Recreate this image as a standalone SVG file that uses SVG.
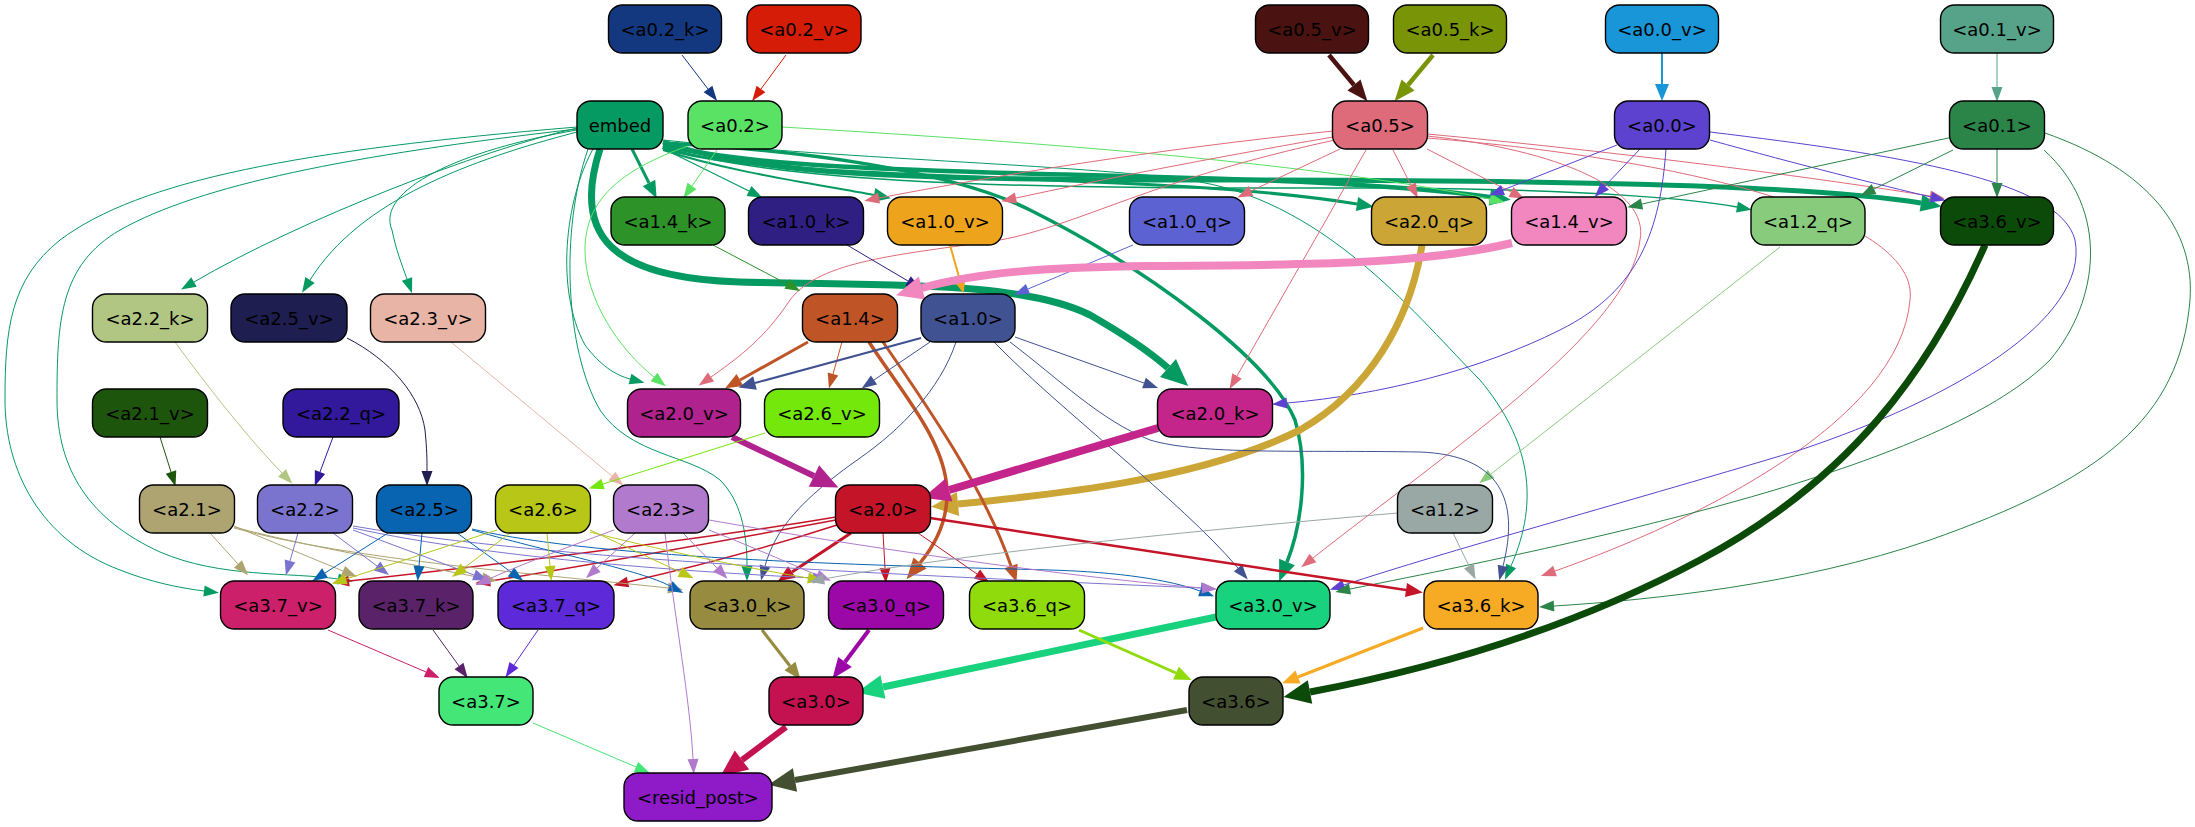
<svg xmlns="http://www.w3.org/2000/svg" width="2195" height="827" viewBox="0 0 2195 827">
<style>
.n rect{stroke:#000;stroke-width:1.4}
.n text{font-family:"DejaVu Sans","Liberation Sans",sans-serif;font-size:18px;text-anchor:middle;fill:#000}
#edges path{fill:none}
</style>
<defs>
<marker id="as" viewBox="0 -7 16 14" refX="0" refY="0" markerWidth="16" markerHeight="14" markerUnits="userSpaceOnUse" orient="auto" overflow="visible"><path d="M0,-5.5 L15,0 L0,5.5 z" fill="context-stroke"/></marker>
<marker id="am" viewBox="0 -8 18 16" refX="0" refY="0" markerWidth="18" markerHeight="16" markerUnits="userSpaceOnUse" orient="auto" overflow="visible"><path d="M0,-7 L17,0 L0,7 z" fill="context-stroke"/></marker>
<marker id="al" viewBox="0 -10 22 20" refX="0" refY="0" markerWidth="22" markerHeight="20" markerUnits="userSpaceOnUse" orient="auto" overflow="visible"><path d="M0,-8.5 L21,0 L0,8.5 z" fill="context-stroke"/></marker>
<marker id="ax" viewBox="0 -13 28 26" refX="0" refY="0" markerWidth="28" markerHeight="26" markerUnits="userSpaceOnUse" orient="auto" overflow="visible"><path d="M0,-12 L27,0 L0,12 z" fill="context-stroke"/></marker>
</defs>
<g id="edges">
<path d="M682,55 L708,89" stroke="#13387f" stroke-width="1" marker-end="url(#as)"/>
<path d="M786,55 L761,89" stroke="#d41c06" stroke-width="1" marker-end="url(#as)"/>
<path d="M1329,55 L1354,85" stroke="#4a1210" stroke-width="4.5" marker-end="url(#al)"/>
<path d="M1433,55 L1408,85" stroke="#7a9408" stroke-width="4.5" marker-end="url(#al)"/>
<path d="M1662,53 L1662,84" stroke="#1996d8" stroke-width="2" marker-end="url(#am)"/>
<path d="M1997,53 L1997,87" stroke="#56a38a" stroke-width="1" marker-end="url(#as)"/>
<path d="M632,149 L649,183" stroke="#069a63" stroke-width="3" marker-end="url(#am)"/>
<path d="M662,148 L749,191" stroke="#069a63" stroke-width="1.2" marker-end="url(#as)"/>
<path d="M663,150 C730,172 810,183 874,195" stroke="#069a63" stroke-width="2" marker-end="url(#am)"/>
<path d="M663,148 C780,185 1150,170 1357,204" stroke="#069a63" stroke-width="3" marker-end="url(#am)"/>
<path d="M663,145 C820,185 1250,165 1490,197" stroke="#069a63" stroke-width="4.5" marker-end="url(#al)"/>
<path d="M663,142 C760,175 900,180 1200,180 C1500,180 1800,183 1921,203" stroke="#069a63" stroke-width="5" marker-end="url(#al)"/>
<path d="M663,147 C800,190 1100,188 1400,188 C1600,190 1700,200 1737,207" stroke="#069a63" stroke-width="1.5" marker-end="url(#as)"/>
<path d="M600,149 C572,235 610,278 740,282 C880,286 1020,280 1090,315 C1125,335 1150,352 1168,368" stroke="#069a63" stroke-width="7" marker-end="url(#ax)"/>
<path d="M663,143 C800,150 950,170 1030,210 C1150,270 1270,360 1295,420 C1310,470 1300,530 1287,562" stroke="#069a63" stroke-width="3.5" marker-end="url(#al)"/>
<path d="M663,140 C850,160 1100,165 1200,182 C1330,205 1420,320 1480,380 C1530,440 1540,500 1511,566" stroke="#069a63" stroke-width="1" marker-end="url(#as)"/>
<path d="M577,128 C480,150 300,220 194,282" stroke="#069a63" stroke-width="1" marker-end="url(#as)"/>
<path d="M577,132 C470,160 360,200 310,280" stroke="#069a63" stroke-width="1" marker-end="url(#as)"/>
<path d="M577,130 C460,150 375,190 392,230 C396,250 402,265 407,279" stroke="#069a63" stroke-width="1" marker-end="url(#as)"/>
<path d="M577,127 C300,150 140,180 60,240 C10,280 5,330 5,400 C5,470 40,540 120,570 C150,582 180,588 204,591" stroke="#069a63" stroke-width="1" marker-end="url(#as)"/>
<path d="M577,129 C350,155 200,185 120,230 C60,265 57,320 57,400 C57,470 90,520 160,552 C220,578 290,572 338,579" stroke="#069a63" stroke-width="1" marker-end="url(#as)"/>
<path d="M593,149 C565,200 555,290 585,345 C600,365 615,375 630,379" stroke="#069a63" stroke-width="1" marker-end="url(#as)"/>
<path d="M588,149 C560,230 565,350 600,410 C630,455 690,455 720,480 C740,500 747,530 747,566" stroke="#069a63" stroke-width="1" marker-end="url(#as)"/>
<path d="M717,150 L692,186" stroke="#5ae264" stroke-width="1" marker-end="url(#as)"/>
<path d="M688,146 C620,170 585,200 585,250 C585,300 620,350 654,377" stroke="#5ae264" stroke-width="1" marker-end="url(#as)"/>
<path d="M782,127 C1000,140 1300,160 1490,199" stroke="#5ae264" stroke-width="1" marker-end="url(#as)"/>
<path d="M1333,131 C1150,150 1000,175 879,198" stroke="#de6b7a" stroke-width="1" marker-end="url(#as)"/>
<path d="M1333,137 C1200,160 1100,180 1016,198" stroke="#de6b7a" stroke-width="1" marker-end="url(#as)"/>
<path d="M1340,149 L1251,191" stroke="#de6b7a" stroke-width="1" marker-end="url(#as)"/>
<path d="M1393,150 L1411,185" stroke="#de6b7a" stroke-width="1" marker-end="url(#as)"/>
<path d="M1427,149 L1511,192" stroke="#de6b7a" stroke-width="1" marker-end="url(#as)"/>
<path d="M1335,140 C1150,180 1080,225 1000,240 C900,255 820,260 790,300 C770,330 750,350 711,377" stroke="#de6b7a" stroke-width="1" marker-end="url(#as)"/>
<path d="M1366,150 L1237,376" stroke="#de6b7a" stroke-width="1" marker-end="url(#as)"/>
<path d="M1427,136 C1560,150 1650,190 1640,240 C1630,330 1450,450 1313,558" stroke="#de6b7a" stroke-width="1" marker-end="url(#as)"/>
<path d="M1427,138 C1700,160 1920,220 1910,300 C1900,420 1700,520 1555,571" stroke="#de6b7a" stroke-width="1" marker-end="url(#as)"/>
<path d="M1427,134 C1600,150 1800,175 1930,196" stroke="#de6b7a" stroke-width="1" marker-end="url(#as)"/>
<path d="M1617,145 L1503,190" stroke="#5c42cf" stroke-width="1" marker-end="url(#as)"/>
<path d="M1640,149 L1605,186" stroke="#5c42cf" stroke-width="1" marker-end="url(#as)"/>
<path d="M1666,149 C1660,230 1640,290 1560,330 C1480,370 1380,395 1287,403" stroke="#5c42cf" stroke-width="1" marker-end="url(#as)"/>
<path d="M1710,140 C1800,165 1880,185 1931,197" stroke="#5c42cf" stroke-width="1" marker-end="url(#as)"/>
<path d="M1710,132 C1900,155 2060,180 2075,240 C2090,320 1950,400 1800,450 C1600,510 1450,550 1344,585" stroke="#5c42cf" stroke-width="1" marker-end="url(#as)"/>
<path d="M1953,137 L1642,204" stroke="#2b8448" stroke-width="1" marker-end="url(#as)"/>
<path d="M1953,150 L1874,189" stroke="#2b8448" stroke-width="1" marker-end="url(#as)"/>
<path d="M1997,149 L1997,183" stroke="#2b8448" stroke-width="1" marker-end="url(#as)"/>
<path d="M2044,150 C2110,210 2100,300 2050,360 C1950,460 1650,530 1350,589" stroke="#2b8448" stroke-width="1" marker-end="url(#as)"/>
<path d="M2045,133 C2150,170 2195,230 2190,300 C2180,420 2100,480 1930,540 C1800,585 1650,600 1554,606" stroke="#2b8448" stroke-width="1" marker-end="url(#as)"/>
<path d="M713,245 L787,284" stroke="#2d9228" stroke-width="1" marker-end="url(#as)"/>
<path d="M847,245 L908,281" stroke="#301f82" stroke-width="1" marker-end="url(#as)"/>
<path d="M950,245 L959,277" stroke="#eda41c" stroke-width="2" marker-end="url(#am)"/>
<path d="M1133,245 L1028,289" stroke="#5d62d2" stroke-width="1" marker-end="url(#as)"/>
<path d="M1422,245 C1410,320 1370,390 1300,430 C1200,480 1050,495 958,504" stroke="#cba636" stroke-width="7" marker-end="url(#ax)"/>
<path d="M1512,243 C1420,265 1300,265 1150,266 C1050,267 980,272 922,288" stroke="#f287c0" stroke-width="8" marker-end="url(#ax)"/>
<path d="M1780,247 L1491,474" stroke="#88cb7c" stroke-width="1" marker-end="url(#as)"/>
<path d="M1985,245 C1930,370 1850,480 1700,560 C1550,640 1400,675 1310,692" stroke="#0b4a08" stroke-width="7" marker-end="url(#ax)"/>
<path d="M808,342 L740,380" stroke="#bf5427" stroke-width="3" marker-end="url(#am)"/>
<path d="M842,342 L833,374" stroke="#bf5427" stroke-width="1" marker-end="url(#as)"/>
<path d="M869,342 C900,390 945,440 947,490 C948,520 935,545 920,563" stroke="#bf5427" stroke-width="3.5" marker-end="url(#al)"/>
<path d="M883,342 C930,410 985,490 1011,566" stroke="#bf5427" stroke-width="3" marker-end="url(#am)"/>
<path d="M921,338 L755,383" stroke="#405291" stroke-width="2" marker-end="url(#am)"/>
<path d="M930,342 L874,380" stroke="#405291" stroke-width="1" marker-end="url(#as)"/>
<path d="M1015,337 L1144,383" stroke="#405291" stroke-width="1" marker-end="url(#as)"/>
<path d="M956,342 C940,390 900,430 860,458 C800,500 775,530 765,566" stroke="#405291" stroke-width="1" marker-end="url(#as)"/>
<path d="M994,342 C1060,410 1180,500 1238,568" stroke="#405291" stroke-width="1" marker-end="url(#as)"/>
<path d="M1010,342 C1060,380 1100,420 1150,440 C1200,455 1300,450 1420,452 C1500,455 1520,500 1503,566" stroke="#405291" stroke-width="1" marker-end="url(#as)"/>
<path d="M175,342 C210,390 250,440 282,473" stroke="#b1c683" stroke-width="1" marker-end="url(#as)"/>
<path d="M347,338 C390,360 420,395 425,430 C427,450 427,460 427,471" stroke="#1e1e50" stroke-width="1" marker-end="url(#as)"/>
<path d="M451,342 L612,476" stroke="#e8b4a5" stroke-width="1" marker-end="url(#as)"/>
<path d="M160,437 L171,472" stroke="#1e550d" stroke-width="1" marker-end="url(#as)"/>
<path d="M333,437 L320,472" stroke="#32189a" stroke-width="1" marker-end="url(#as)"/>
<path d="M732,437 L814,476" stroke="#b0228d" stroke-width="6" marker-end="url(#ax)"/>
<path d="M765,433 L603,484" stroke="#74e80b" stroke-width="1" marker-end="url(#as)"/>
<path d="M1158,428 L949,490" stroke="#c3258a" stroke-width="8" marker-end="url(#ax)"/>
<path d="M836,517 C700,540 450,570 349,581" stroke="#c41428" stroke-width="1.5" marker-end="url(#as)"/>
<path d="M836,520 C700,545 560,570 490,581" stroke="#c41428" stroke-width="1.5" marker-end="url(#as)"/>
<path d="M837,525 C760,550 680,570 628,582" stroke="#c41428" stroke-width="1.5" marker-end="url(#as)"/>
<path d="M851,533 L792,572" stroke="#c41428" stroke-width="3" marker-end="url(#am)"/>
<path d="M883,533 L885,568" stroke="#c41428" stroke-width="1" marker-end="url(#as)"/>
<path d="M918,533 L977,574" stroke="#c41428" stroke-width="1" marker-end="url(#as)"/>
<path d="M930,518 L1406,590" stroke="#c41428" stroke-width="2.5" marker-end="url(#am)"/>
<path d="M210,533 L238,564" stroke="#aea472" stroke-width="1" marker-end="url(#as)"/>
<path d="M234,526 L343,571" stroke="#aea472" stroke-width="1" marker-end="url(#as)"/>
<path d="M234,527 C320,550 420,565 482,578" stroke="#aea472" stroke-width="1" marker-end="url(#as)"/>
<path d="M234,528 C350,560 550,575 668,588" stroke="#aea472" stroke-width="1" marker-end="url(#as)"/>
<path d="M298,533 L290,561" stroke="#7b74cf" stroke-width="1" marker-end="url(#as)"/>
<path d="M333,533 L377,566" stroke="#7b74cf" stroke-width="1" marker-end="url(#as)"/>
<path d="M353,530 L474,575" stroke="#7b74cf" stroke-width="1" marker-end="url(#as)"/>
<path d="M353,528 C500,560 700,572 813,578" stroke="#7b74cf" stroke-width="1" marker-end="url(#as)"/>
<path d="M353,526 C550,560 900,575 1201,588" stroke="#7b74cf" stroke-width="1" marker-end="url(#as)"/>
<path d="M388,533 L325,573" stroke="#0864b1" stroke-width="1" marker-end="url(#as)"/>
<path d="M422,533 L419,566" stroke="#0864b1" stroke-width="1" marker-end="url(#as)"/>
<path d="M457,533 L511,572" stroke="#0864b1" stroke-width="1" marker-end="url(#as)"/>
<path d="M472,530 C560,555 640,570 670,586" stroke="#0864b1" stroke-width="1" marker-end="url(#as)"/>
<path d="M472,529 C600,560 900,566 1050,570 C1120,572 1170,580 1200,591" stroke="#0864b1" stroke-width="1" marker-end="url(#as)"/>
<path d="M497,530 L346,579" stroke="#b8c618" stroke-width="1" marker-end="url(#as)"/>
<path d="M510,533 L464,568" stroke="#b8c618" stroke-width="1" marker-end="url(#as)"/>
<path d="M547,533 L550,566" stroke="#b8c618" stroke-width="1" marker-end="url(#as)"/>
<path d="M590,530 L680,572" stroke="#b8c618" stroke-width="1" marker-end="url(#as)"/>
<path d="M590,532 C680,555 760,570 808,578" stroke="#b8c618" stroke-width="1" marker-end="url(#as)"/>
<path d="M614,530 C560,550 520,565 489,579" stroke="#b17acc" stroke-width="1" marker-end="url(#as)"/>
<path d="M635,533 L597,568" stroke="#b17acc" stroke-width="1" marker-end="url(#as)"/>
<path d="M683,533 L717,568" stroke="#b17acc" stroke-width="1" marker-end="url(#as)"/>
<path d="M709,530 C760,550 800,568 817,575" stroke="#b17acc" stroke-width="1" marker-end="url(#as)"/>
<path d="M709,520 C850,545 1050,575 1202,588" stroke="#b17acc" stroke-width="1" marker-end="url(#as)"/>
<path d="M665,533 C675,620 690,700 693,759" stroke="#b17acc" stroke-width="1" marker-end="url(#as)"/>
<path d="M1398,513 C1200,530 950,555 824,579" stroke="#99a8a4" stroke-width="1" marker-end="url(#as)"/>
<path d="M1453,533 L1469,566" stroke="#99a8a4" stroke-width="1" marker-end="url(#as)"/>
<path d="M328,630 L426,672" stroke="#cc206b" stroke-width="1" marker-end="url(#as)"/>
<path d="M433,630 L459,666" stroke="#5a2369" stroke-width="1" marker-end="url(#as)"/>
<path d="M538,630 L514,665" stroke="#5e2ad9" stroke-width="1" marker-end="url(#as)"/>
<path d="M762,630 L790,666" stroke="#968b3e" stroke-width="3" marker-end="url(#am)"/>
<path d="M869,630 L845,662" stroke="#9c08a8" stroke-width="4" marker-end="url(#al)"/>
<path d="M1216,617 L883,687" stroke="#19d27e" stroke-width="7" marker-end="url(#ax)"/>
<path d="M1079,630 L1176,673" stroke="#8fdb0c" stroke-width="3" marker-end="url(#am)"/>
<path d="M1423,628 L1298,677" stroke="#f7aa24" stroke-width="3" marker-end="url(#am)"/>
<path d="M533,723 L636,767" stroke="#44e677" stroke-width="1" marker-end="url(#as)"/>
<path d="M786,727 L742,760" stroke="#c41150" stroke-width="6" marker-end="url(#ax)"/>
<path d="M1187,710 L795,780" stroke="#434f31" stroke-width="6" marker-end="url(#ax)"/>
</g>
<g id="n-a0_2_k" class="n"><rect x="608.5" y="5" width="113" height="48" rx="14" fill="#13387f"/><text x="665" y="35.5">&lt;a0.2_k&gt;</text></g>
<g id="n-a0_2_v" class="n"><rect x="747" y="5" width="114" height="48" rx="14" fill="#d41c06"/><text x="804" y="35.5">&lt;a0.2_v&gt;</text></g>
<g id="n-a0_5_v" class="n"><rect x="1255.5" y="5" width="113" height="48" rx="14" fill="#4a1210"/><text x="1312" y="35.5">&lt;a0.5_v&gt;</text></g>
<g id="n-a0_5_k" class="n"><rect x="1393.5" y="5" width="113" height="48" rx="14" fill="#7a9408"/><text x="1450" y="35.5">&lt;a0.5_k&gt;</text></g>
<g id="n-a0_0_v" class="n"><rect x="1605.5" y="5" width="113" height="48" rx="14" fill="#1996d8"/><text x="1662" y="35.5">&lt;a0.0_v&gt;</text></g>
<g id="n-a0_1_v" class="n"><rect x="1940.5" y="5" width="113" height="48" rx="14" fill="#56a38a"/><text x="1997" y="35.5">&lt;a0.1_v&gt;</text></g>
<g id="n-embed" class="n"><rect x="577" y="101" width="86" height="48" rx="14" fill="#069a63"/><text x="620" y="131.5">embed</text></g>
<g id="n-a0_2" class="n"><rect x="688" y="101" width="94" height="48" rx="14" fill="#5ae264"/><text x="735" y="131.5">&lt;a0.2&gt;</text></g>
<g id="n-a0_5" class="n"><rect x="1332.5" y="101" width="95" height="48" rx="14" fill="#de6b7a"/><text x="1380" y="131.5">&lt;a0.5&gt;</text></g>
<g id="n-a0_0" class="n"><rect x="1614.5" y="101" width="95" height="48" rx="14" fill="#5c42cf"/><text x="1662" y="131.5">&lt;a0.0&gt;</text></g>
<g id="n-a0_1" class="n"><rect x="1949.5" y="101" width="95" height="48" rx="14" fill="#2b8448"/><text x="1997" y="131.5">&lt;a0.1&gt;</text></g>
<g id="n-a1_4_k" class="n"><rect x="611" y="197" width="114" height="48" rx="14" fill="#2d9228"/><text x="668" y="227.5">&lt;a1.4_k&gt;</text></g>
<g id="n-a1_0_k" class="n"><rect x="748.5" y="197" width="115" height="48" rx="14" fill="#301f82"/><text x="806" y="227.5">&lt;a1.0_k&gt;</text></g>
<g id="n-a1_0_v" class="n"><rect x="887.5" y="197" width="115" height="48" rx="14" fill="#eda41c"/><text x="945" y="227.5">&lt;a1.0_v&gt;</text></g>
<g id="n-a1_0_q" class="n"><rect x="1129.5" y="197" width="115" height="48" rx="14" fill="#5d62d2"/><text x="1187" y="227.5">&lt;a1.0_q&gt;</text></g>
<g id="n-a2_0_q" class="n"><rect x="1371.5" y="197" width="115" height="48" rx="14" fill="#cba636"/><text x="1429" y="227.5">&lt;a2.0_q&gt;</text></g>
<g id="n-a1_4_v" class="n"><rect x="1511.5" y="197" width="115" height="48" rx="14" fill="#f287c0"/><text x="1569" y="227.5">&lt;a1.4_v&gt;</text></g>
<g id="n-a1_2_q" class="n"><rect x="1751" y="197" width="114" height="48" rx="14" fill="#88cb7c"/><text x="1808" y="227.5">&lt;a1.2_q&gt;</text></g>
<g id="n-a3_6_v" class="n"><rect x="1940.5" y="197" width="113" height="48" rx="14" fill="#0b4a08"/><text x="1997" y="227.5">&lt;a3.6_v&gt;</text></g>
<g id="n-a2_2_k" class="n"><rect x="92.5" y="294" width="115" height="48" rx="14" fill="#b1c683"/><text x="150" y="324.5">&lt;a2.2_k&gt;</text></g>
<g id="n-a2_5_v" class="n"><rect x="231" y="294" width="116" height="48" rx="14" fill="#1e1e50"/><text x="289" y="324.5">&lt;a2.5_v&gt;</text></g>
<g id="n-a2_3_v" class="n"><rect x="370.5" y="294" width="115" height="48" rx="14" fill="#e8b4a5"/><text x="428" y="324.5">&lt;a2.3_v&gt;</text></g>
<g id="n-a1_4" class="n"><rect x="802.5" y="294" width="95" height="48" rx="14" fill="#bf5427"/><text x="850" y="324.5">&lt;a1.4&gt;</text></g>
<g id="n-a1_0" class="n"><rect x="921" y="294" width="94" height="48" rx="14" fill="#405291"/><text x="968" y="324.5">&lt;a1.0&gt;</text></g>
<g id="n-a2_1_v" class="n"><rect x="92.5" y="389" width="115" height="48" rx="14" fill="#1e550d"/><text x="150" y="419.5">&lt;a2.1_v&gt;</text></g>
<g id="n-a2_2_q" class="n"><rect x="283" y="389" width="116" height="48" rx="14" fill="#32189a"/><text x="341" y="419.5">&lt;a2.2_q&gt;</text></g>
<g id="n-a2_0_v" class="n"><rect x="627.5" y="389" width="113" height="48" rx="14" fill="#b0228d"/><text x="684" y="419.5">&lt;a2.0_v&gt;</text></g>
<g id="n-a2_6_v" class="n"><rect x="764.5" y="389" width="115" height="48" rx="14" fill="#74e80b"/><text x="822" y="419.5">&lt;a2.6_v&gt;</text></g>
<g id="n-a2_0_k" class="n"><rect x="1157.5" y="389" width="115" height="48" rx="14" fill="#c3258a"/><text x="1215" y="419.5">&lt;a2.0_k&gt;</text></g>
<g id="n-a2_1" class="n"><rect x="139.5" y="485" width="95" height="48" rx="14" fill="#aea472"/><text x="187" y="515.5">&lt;a2.1&gt;</text></g>
<g id="n-a2_2" class="n"><rect x="257.5" y="485" width="95" height="48" rx="14" fill="#7b74cf"/><text x="305" y="515.5">&lt;a2.2&gt;</text></g>
<g id="n-a2_5" class="n"><rect x="376.5" y="485" width="95" height="48" rx="14" fill="#0864b1"/><text x="424" y="515.5">&lt;a2.5&gt;</text></g>
<g id="n-a2_6" class="n"><rect x="495.5" y="485" width="95" height="48" rx="14" fill="#b8c618"/><text x="543" y="515.5">&lt;a2.6&gt;</text></g>
<g id="n-a2_3" class="n"><rect x="613.5" y="485" width="95" height="48" rx="14" fill="#b17acc"/><text x="661" y="515.5">&lt;a2.3&gt;</text></g>
<g id="n-a2_0" class="n"><rect x="835.5" y="485" width="95" height="48" rx="14" fill="#c41428"/><text x="883" y="515.5">&lt;a2.0&gt;</text></g>
<g id="n-a1_2" class="n"><rect x="1397.5" y="485" width="95" height="48" rx="14" fill="#99a8a4"/><text x="1445" y="515.5">&lt;a1.2&gt;</text></g>
<g id="n-a3_7_v" class="n"><rect x="220.5" y="581" width="115" height="48" rx="14" fill="#cc206b"/><text x="278" y="611.5">&lt;a3.7_v&gt;</text></g>
<g id="n-a3_7_k" class="n"><rect x="359" y="581" width="114" height="48" rx="14" fill="#5a2369"/><text x="416" y="611.5">&lt;a3.7_k&gt;</text></g>
<g id="n-a3_7_q" class="n"><rect x="498" y="581" width="116" height="48" rx="14" fill="#5e2ad9"/><text x="556" y="611.5">&lt;a3.7_q&gt;</text></g>
<g id="n-a3_0_k" class="n"><rect x="690" y="581" width="114" height="48" rx="14" fill="#968b3e"/><text x="747" y="611.5">&lt;a3.0_k&gt;</text></g>
<g id="n-a3_0_q" class="n"><rect x="828.5" y="581" width="115" height="48" rx="14" fill="#9c08a8"/><text x="886" y="611.5">&lt;a3.0_q&gt;</text></g>
<g id="n-a3_6_q" class="n"><rect x="969.5" y="581" width="115" height="48" rx="14" fill="#8fdb0c"/><text x="1027" y="611.5">&lt;a3.6_q&gt;</text></g>
<g id="n-a3_0_v" class="n"><rect x="1216" y="581" width="114" height="48" rx="14" fill="#19d27e"/><text x="1273" y="611.5">&lt;a3.0_v&gt;</text></g>
<g id="n-a3_6_k" class="n"><rect x="1424" y="581" width="114" height="48" rx="14" fill="#f7aa24"/><text x="1481" y="611.5">&lt;a3.6_k&gt;</text></g>
<g id="n-a3_7" class="n"><rect x="439" y="677" width="94" height="48" rx="14" fill="#44e677"/><text x="486" y="707.5">&lt;a3.7&gt;</text></g>
<g id="n-a3_0" class="n"><rect x="769" y="677" width="94" height="48" rx="14" fill="#c41150"/><text x="816" y="707.5">&lt;a3.0&gt;</text></g>
<g id="n-a3_6" class="n"><rect x="1189" y="677" width="94" height="48" rx="14" fill="#434f31"/><text x="1236" y="707.5">&lt;a3.6&gt;</text></g>
<g id="n-resid_post" class="n"><rect x="624" y="773" width="148" height="48" rx="14" fill="#8e1ac8"/><text x="698" y="803.5">&lt;resid_post&gt;</text></g>
</svg>
